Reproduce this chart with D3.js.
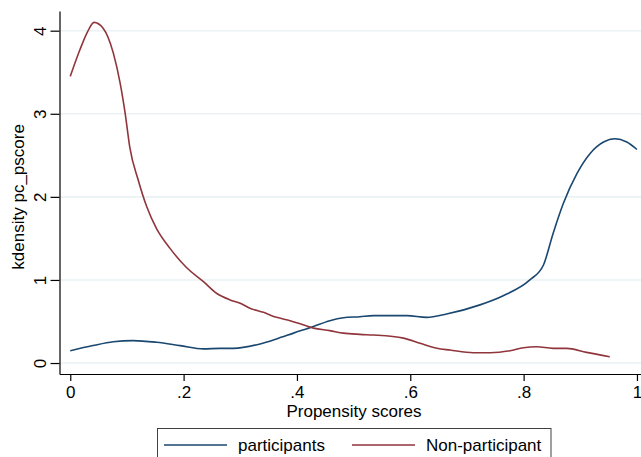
<!DOCTYPE html>
<meta charset="utf-8">
<style>
    body{ margin:0; background:#fff; }
    svg{ display:block; font-family:"Liberation Sans", Arial, sans-serif; }
    .grid line{ stroke:#eaf2f3; stroke-width:1.6; }
    .axis path, .axis line{ stroke:#000; stroke-width:1.2; }
    .axis text{ font-size:17px; fill:#000; }
    .label{ font-size:17px; fill:#000; }
</style>
<body>
<svg id="chart" width="641" height="457"></svg>
</body>
<script src="https://d3js.org/d3.v7.min.js"></script>
<script>
// participants (navy)
var partScore = [0, 0.04, 0.076, 0.111, 0.152, 0.194, 0.235, 0.264, 0.288, 0.335, 0.364, 0.394,
    0.429, 0.458, 0.482, 0.511, 0.535, 0.594, 0.629, 0.664, 0.723, 0.764, 0.811, 0.835,
    0.852, 0.87, 0.894, 0.917, 0.941, 0.961, 0.982, 1.0];
var partDens = [0.148, 0.21, 0.256, 0.27, 0.25, 0.21, 0.17, 0.177, 0.177, 0.23, 0.29, 0.36,
    0.44, 0.51, 0.545, 0.557, 0.57, 0.57, 0.55, 0.59, 0.70, 0.81, 1.0, 1.18,
    1.56, 1.92, 2.28, 2.52, 2.66, 2.70, 2.66, 2.57];

// non-participants (maroon)
var nonScore = [0, 0.017, 0.03, 0.042, 0.058, 0.076, 0.088, 0.097, 0.105, 0.12, 0.135, 0.152,
    0.176, 0.205, 0.235, 0.258, 0.282, 0.30, 0.317, 0.341, 0.364, 0.388, 0.411, 0.429,
    0.458, 0.482, 0.511, 0.535, 0.588, 0.617, 0.647, 0.67, 0.711, 0.741, 0.776, 0.80,
    0.823, 0.852, 0.876, 0.911, 0.952];
var nonDens = [3.45, 3.77, 3.98, 4.10, 4.03, 3.73, 3.37, 3.0, 2.60, 2.20, 1.88, 1.62,
    1.38, 1.15, 0.98, 0.84, 0.76, 0.72, 0.66, 0.61, 0.55, 0.51, 0.46, 0.42,
    0.39, 0.36, 0.345, 0.337, 0.30, 0.237, 0.177, 0.156, 0.124, 0.124, 0.148, 0.184,
    0.196, 0.177, 0.177, 0.128, 0.076];

var xTicks = [0, 0.2, 0.4, 0.6, 0.8, 1];
var yTicks = [0, 1, 2, 3, 4];
var seriesNames = ["participants", "Non-participant"];
var seriesColors = ["#1a476f", "#90353b"];

var svg = d3.select("#chart");

var x = d3.scaleLinear().domain([-0.019, 1.02]).range([59.5, 648.3]);
var y = d3.scaleLinear().domain([-0.132, 4.237]).range([374, 11]);

// gridlines
svg.append("g").attr("class", "grid")
    .selectAll("line").data(yTicks).enter().append("line")
    .attr("x1", 60).attr("x2", 641)
    .attr("y1", function(d){ return y(d); })
    .attr("y2", function(d){ return y(d); });

var fmt = function(d){
    if(d === 0) return "0";
    if(d === 1) return "1";
    return String(d).replace("0.", ".");
};

// x axis
var gx = svg.append("g").attr("class", "axis")
    .attr("transform", "translate(0,374)")
    .call(d3.axisBottom(x).tickValues(xTicks).tickFormat(fmt).tickSize(7).tickSizeOuter(0).tickPadding(5));
gx.selectAll("text").attr("dy", "0.71em");

// y axis, labels rotated like Stata
var gy = svg.append("g").attr("class", "axis")
    .attr("transform", "translate(59.5,0)")
    .call(d3.axisLeft(y).tickValues(yTicks).tickFormat(fmt).tickSize(9).tickSizeOuter(0));
gy.selectAll(".tick text")
    .attr("x", null).attr("dy", null)
    .attr("text-anchor", "middle")
    .attr("transform", "translate(-14,0) rotate(-90)");

// axis titles
svg.append("text").attr("class", "label")
    .attr("x", 354).attr("y", 417)
    .attr("text-anchor", "middle")
    .text("Propensity scores");
svg.append("text").attr("class", "label")
    .attr("transform", "translate(24," + y(2) + ") rotate(-90)")
    .attr("text-anchor", "middle")
    .text("kdensity pc_pscore");

// density lines
var line = d3.line()
    .x(function(d){ return x(d[0]); })
    .y(function(d){ return y(d[1]); })
    .curve(d3.curveMonotoneX);

var series = [d3.zip(partScore, partDens), d3.zip(nonScore, nonDens)];
svg.selectAll(".dens").data(series).enter().append("path")
    .attr("class", "dens")
    .attr("fill", "none")
    .attr("stroke", function(d, i){ return seriesColors[i]; })
    .attr("stroke-width", 1.6)
    .attr("d", line);

// legend
var lg = svg.append("g");
lg.append("rect")
    .attr("x", 157.5).attr("y", 428.5)
    .attr("width", 393.5).attr("height", 40)
    .attr("fill", "#fff").attr("stroke", "#404040").attr("stroke-width", 1);
var items = [{x: 164, tx: 238}, {x: 352, tx: 426}];
items.forEach(function(it, i){
    lg.append("line")
        .attr("x1", it.x).attr("x2", it.x + 63)
        .attr("y1", 445).attr("y2", 445)
        .attr("stroke", seriesColors[i]).attr("stroke-width", 1.6);
    lg.append("text").attr("class", "label")
        .attr("x", it.tx).attr("y", 451)
        .text(seriesNames[i]);
});
</script>
